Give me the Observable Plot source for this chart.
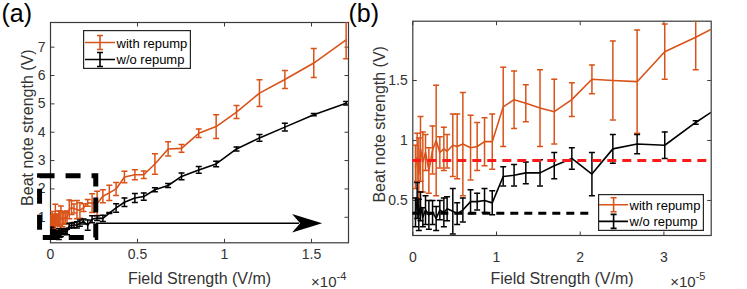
<!DOCTYPE html>
<html>
<head>
<meta charset="utf-8">
<script src="https://cdn.jsdelivr.net/npm/d3@7"></script>
<script src="https://cdn.jsdelivr.net/npm/@observablehq/plot@0.6"></script>
<style>
  html, body { margin: 0; padding: 0; background: #fff; }
  #wrap { position: relative; width: 747px; height: 289px; overflow: hidden; background: #fff;
          font-family: "Liberation Sans", Arial, sans-serif; }
  #wrap > svg { position: absolute; top: 0; }
</style>
</head>
<body>
<div id="wrap"></div>
<script>
// ---------------- data (field strength in units of 1e-5 V/m) ----------------
const fieldE5 = [0.032, 0.052, 0.072, 0.092, 0.12, 0.152, 0.192, 0.236, 0.279, 0.323,
  0.371, 0.41, 0.478, 0.53, 0.598, 0.69, 0.769, 0.857, 0.949, 1.08,
  1.21, 1.35, 1.52, 1.69, 1.9, 2.14, 2.39, 2.68, 3.01, 3.38,
  3.77, 4.25, 4.85, 5.36, 6.0, 6.76, 7.53, 8.52, 9.52, 10.69,
  12.01, 13.47, 15.13, 16.99];
const withRepump = [0.78, 0.86, 0.72, 0.93, 0.82, 0.9, 0.75, 0.92, 1.0, 0.9,
  0.93, 0.91, 0.96, 0.95, 0.97, 0.94, 0.95, 0.99, 0.99, 1.28,
  1.34, 1.31, 1.27, 1.24, 1.34, 1.51, 1.5, 1.49, 1.74, 1.86,
  2.0, 2.42, 2.5, 2.5, 2.88, 3.41, 3.43, 3.96, 4.2, 4.71,
  5.38, 5.86, 6.44, 7.26];
const withRepumpErr = [0.18, 0.2, 0.3, 0.27, 0.25, 0.15, 0.19, 0.2, 0.46, 0.13,
  0.18, 0.14, 0.26, 0.27, 0.43, 0.27, 0.2, 0.2, 0.23, 0.33,
  0.24, 0.155, 0.32, 0.27, 0.14, 0.12, 0.33, 0.43, 0.23, 0.27,
  0.23, 0.2, 0.18, 0.13, 0.36, 0.25, 0.14, 0.15, 0.42, 0.23,
  0.47, 0.32, 0.51, 0.67];
const withoutRepump = [0.4, 0.5, 0.38, 0.45, 0.36, 0.42, 0.38, 0.4, 0.35, 0.42,
  0.4, 0.43, 0.41, 0.39, 0.42, 0.49, 0.49, 0.5, 0.48, 0.7,
  0.71, 0.73, 0.73, 0.79, 0.85, 0.72, 0.93, 0.97, 0.96, 1.15,
  1.33, 1.53, 1.68, 1.73, 1.97, 2.12, 2.44, 2.67, 2.88, 3.41,
  3.8, 4.18, 4.62, 5.02];
const withoutRepumpErr = [0.12, 0.15, 0.13, 0.12, 0.08, 0.12, 0.12, 0.1, 0.1, 0.08,
  0.12, 0.1, 0.19, 0.09, 0.1, 0.1, 0.07, 0.1, 0.1, 0.08,
  0.09, 0.09, 0.11, 0.11, 0.09, 0.18, 0.12, 0.08, 0.11, 0.015,
  0.15, 0.15, 0.16, 0.13, 0.07, 0.07, 0.12, 0.12, 0.1, 0.07,
  0.12, 0.14, 0.04, 0.06];

const seriesNames = ["with repump", "w/o repump"];
const seriesColors = ["#D95319", "#000000"];

// axes
const xTicksA = [0, 0.5, 1, 1.5];          // x 1e-4
const yTicksA = [1, 2, 3, 4, 5, 6, 7];
const xTicksB = [0, 1, 2, 3];              // x 1e-5
const yTicksB = [0.5, 1, 1.5];
const xDomainA = [0, 1.7126], yDomainA = [0.1, 7.87];
const xDomainB = [0, 3.565], yDomainB = [0.208, 1.994];

// annotations
const redThreshold = [0.833];
const blackThreshold = [{y: 0.394, x1: 0, x2: 2.14}];          // panel b units
const zoomBox = [{x1: -0.06, x2: 0.263, y1: 0.27, y2: 2.45}];   // panel a units
const arrowA = [{x1: 0.263, x2: 1.561, y: 0.787}];              // panel a units

// ---------------- build tables ----------------
const seriesRows = [
  fieldE5.map((f, i) => ({series: seriesNames[0], f, y: withRepump[i], e: withRepumpErr[i]})),
  fieldE5.map((f, i) => ({series: seriesNames[1], f, y: withoutRepump[i], e: withoutRepumpErr[i]}))
];

const axisColor = "#3a3a3a";
const fontFamily = "'Liberation Sans', Arial, sans-serif";
const capSym = {draw(c) { c.moveTo(-3, 0); c.lineTo(3, 0); }};
const tickUp = {draw(c) { c.moveTo(0, 0); c.lineTo(0, -4); }};
const tickDown = {draw(c) { c.moveTo(0, 0); c.lineTo(0, 4); }};
const tickRight = {draw(c) { c.moveTo(0, 0); c.lineTo(4, 0); }};
const tickLeft = {draw(c) { c.moveTo(0, 0); c.lineTo(-4, 0); }};
const arrowHead = {draw(c) { c.moveTo(0, 0); c.lineTo(-30, -9.2); c.lineTo(-22, 0); c.lineTo(-30, 9.2); c.closePath(); }};

function dataMarks(X) {
  const marks = [];
  for (const rows of seriesRows) {
    marks.push(
      Plot.line(rows, {x: X, y: "y", stroke: "series", strokeWidth: 1.6, clip: true}),
      Plot.ruleX(rows, {x: X, y1: d => d.y - d.e, y2: d => d.y + d.e, stroke: "series", strokeWidth: 1.5, clip: true}),
      Plot.dot(rows, {x: X, y: d => d.y + d.e, symbol: capSym, stroke: "series", fill: "none", strokeWidth: 1.5, clip: true}),
      Plot.dot(rows, {x: X, y: d => d.y - d.e, symbol: capSym, stroke: "series", fill: "none", strokeWidth: 1.5, clip: true})
    );
  }
  return marks;
}

function axisMarks(xt, yt, xPad, fmt) {
  return [
    Plot.frame({stroke: axisColor, strokeWidth: 1.2}),
    Plot.dot(xt, {x: d => d, frameAnchor: "bottom", symbol: tickUp, stroke: axisColor, fill: "none", strokeWidth: 1}),
    Plot.dot(xt, {x: d => d, frameAnchor: "top", symbol: tickDown, stroke: axisColor, fill: "none", strokeWidth: 1}),
    Plot.dot(yt, {y: d => d, frameAnchor: "left", symbol: tickRight, stroke: axisColor, fill: "none", strokeWidth: 1}),
    Plot.dot(yt, {y: d => d, frameAnchor: "right", symbol: tickLeft, stroke: axisColor, fill: "none", strokeWidth: 1}),
    Plot.axisX(xt, {anchor: "bottom", tickSize: 0, tickPadding: xPad, tickFormat: fmt, fontSize: 14, label: null, fill: "#333"}),
    Plot.axisY(yt, {anchor: "left", tickSize: 0, tickPadding: 5, tickFormat: d => String(d), fontSize: 14, label: null, fill: "#333"})
  ];
}

function labelMarks(o) {
  return [
    Plot.text(["Field Strength (V/m)"], {frameAnchor: "bottom", text: d => d, textAnchor: "middle", dy: o.xLabelDy, lineAnchor: "bottom", fontSize: 16, fill: "#333"}),
    Plot.text(["Beat note strength (V)"], {frameAnchor: "left", text: d => d, textAnchor: "middle", rotate: -90, dx: o.yLabelDx, dy: o.yLabelDy, lineAnchor: "bottom", fontSize: 16, fill: "#333"}),
    Plot.text(["\u00d710"], {frameAnchor: "bottom-right", text: d => d, textAnchor: "end", dx: o.expDx, dy: o.expDy, lineAnchor: "bottom", fontSize: 15, fill: "#333"}),
    Plot.text([o.exp], {frameAnchor: "bottom-right", text: d => d, textAnchor: "start", dx: o.expDx, dy: o.expDy - 7, lineAnchor: "bottom", fontSize: 11, fill: "#333"}),
    Plot.text([o.tag], {frameAnchor: "top-left", text: d => d, textAnchor: "start", dx: o.tagDx, dy: o.tagDy, lineAnchor: "bottom", fontSize: 25, fill: "#000"})
  ];
}

const common = {
  height: 289,
  style: {background: "transparent", fontFamily, fontSize: "14px", overflow: "visible"},
  color: {domain: seriesNames, range: seriesColors}
};

// ---------------- panel (a) ----------------
const XA = d => d.f / 10;
const plotA = Plot.plot({
  ...common,
  width: 370,
  marginLeft: 50, marginRight: 22, marginTop: 22, marginBottom: 46.7,
  x: {domain: xDomainA, axis: null},
  y: {domain: yDomainA, axis: null},
  marks: [
    ...axisMarks(xTicksA, yTicksA, 6.5, d => String(d)),
    ...dataMarks(XA),
    Plot.ruleY(arrowA, {x1: "x1", x2: d => d.x2 - 0.13, y: "y", stroke: "#000", strokeWidth: 1.5}),
    Plot.dot(arrowA, {x: "x2", y: "y", symbol: arrowHead, fill: "#000", stroke: "none"}),
    Plot.rect(zoomBox, {x1: "x1", x2: "x2", y1: "y1", y2: "y2", fill: "none", stroke: "#000", strokeWidth: 5, strokeDasharray: "15,11"}),
    ...labelMarks({xLabelDy: 41, yLabelDx: -17.5, yLabelDy: -5, expDx: -12, expDy: 44.5, exp: "-4", tag: "(a)", tagDx: -49, tagDy: -0.5})
  ]
});
plotA.style.left = "0px";

// ---------------- panel (b) ----------------
const XB = d => d.f;
const plotB = Plot.plot({
  ...common,
  width: 407,
  marginLeft: 72.3, marginRight: 36.3, marginTop: 20.7, marginBottom: 54,
  x: {domain: xDomainB, axis: null},
  y: {domain: yDomainB, axis: null},
  marks: [
    ...axisMarks(xTicksB, yTicksB, 16.5, d => String(d)),
    ...dataMarks(XB),
    Plot.ruleY(blackThreshold, {x1: "x1", x2: "x2", y: "y", stroke: "#000", strokeWidth: 3, strokeDasharray: "8,6"}),
    Plot.ruleY(redThreshold, {stroke: "#ff1a1a", strokeWidth: 3, strokeDasharray: "9,6"}),
    ...labelMarks({xLabelDy: 48, yLabelDx: -28, yLabelDy: -4, expDx: -15.5, expDy: 51.7, exp: "-5", tag: "(b)", tagDx: -64.3, tagDy: 1})
  ]
});
plotB.style.left = "340px";

const wrap = document.getElementById("wrap");
wrap.appendChild(plotA);
wrap.appendChild(plotB);

// ---------------- legends ----------------
const NS = "http://www.w3.org/2000/svg";
function legend(left, top, w, h, entries, symX0, symX1, symXc, textX) {
  const svg = document.createElementNS(NS, "svg");
  svg.setAttribute("width", w); svg.setAttribute("height", h);
  svg.style.left = left + "px"; svg.style.top = top + "px";
  const r = document.createElementNS(NS, "rect");
  r.setAttribute("x", 0.6); r.setAttribute("y", 0.6); r.setAttribute("width", w - 1.2); r.setAttribute("height", h - 1.2);
  r.setAttribute("fill", "#fff"); r.setAttribute("stroke", "#262626"); r.setAttribute("stroke-width", 1.2);
  svg.appendChild(r);
  entries.forEach((en, i) => {
    const color = seriesColors[i];
    const g = document.createElementNS(NS, "path");
    const y = en.lineY;
    g.setAttribute("d", `M${symX0},${y}H${symX1}M${symXc},${y - 7}V${y + 7}M${symXc - 3},${y - 7}H${symXc + 3}M${symXc - 3},${y + 7}H${symXc + 3}`);
    g.setAttribute("stroke", color); g.setAttribute("stroke-width", 1.6); g.setAttribute("fill", "none");
    svg.appendChild(g);
    const t = document.createElementNS(NS, "text");
    t.setAttribute("x", textX); t.setAttribute("y", en.baseY);
    t.setAttribute("font-family", fontFamily); t.setAttribute("font-size", 13); t.setAttribute("fill", "#000");
    t.textContent = seriesNames[i];
    svg.appendChild(t);
  });
  wrap.appendChild(svg);
}
legend(83, 29.5, 108, 39, [{lineY: 12.5, baseY: 17.5}, {lineY: 29.5, baseY: 34}], 2, 32, 17, 33.5);
legend(597.5, 194.3, 106, 37, [{lineY: 10.7, baseY: 15.8}, {lineY: 27.4, baseY: 32.4}], 1, 30, 15.6, 31.6);
</script>
</body>
</html>
